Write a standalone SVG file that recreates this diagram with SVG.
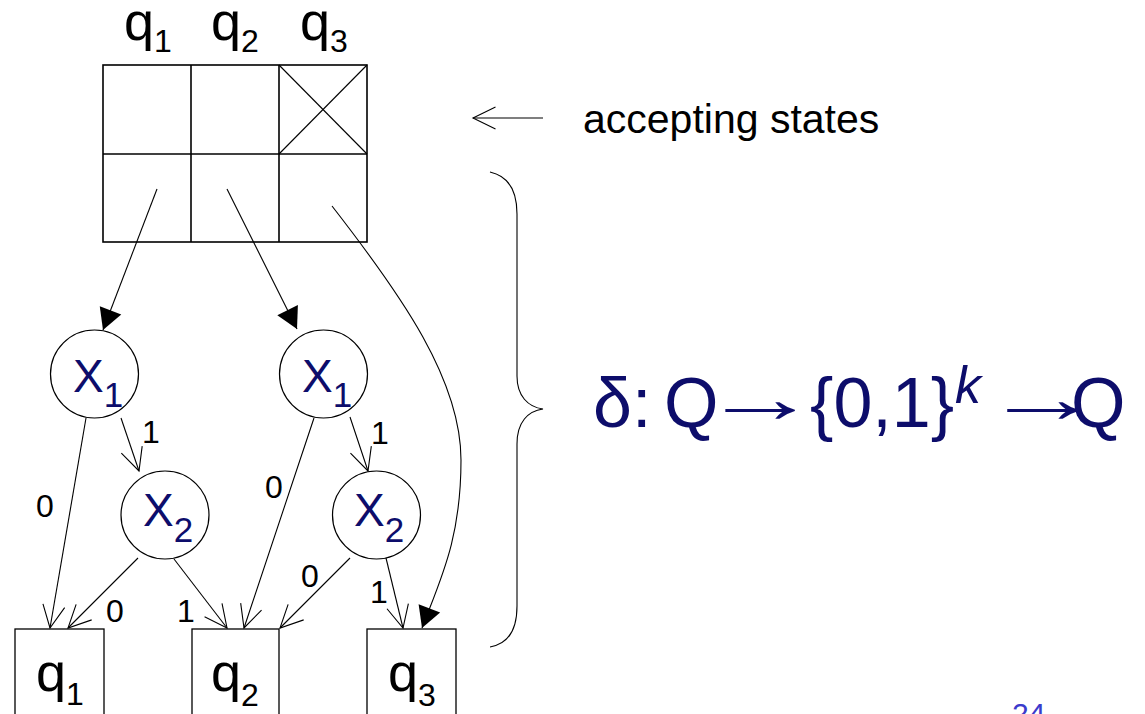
<svg xmlns="http://www.w3.org/2000/svg" width="1145" height="714" viewBox="0 0 1145 714">
<style>
text{font-family:"Liberation Sans",Arial,sans-serif}
.blk{fill:#000}
.nv{fill:#0d0d6b}
.q{font-size:54px}
.qs{font-size:32px}
.x{font-size:46px}
.xs{font-size:35px}
.lbl{font-size:32px;fill:#000}
.box{fill:#fff;stroke:#000;stroke-width:1.3}
.tbl{fill:none;stroke:#000;stroke-width:1.6}
.circ{fill:#fff;stroke:#000;stroke-width:1.2}
.e{fill:none;stroke:#000;stroke-width:1.1}
.fm{font-size:70px;fill:#0d0d6b}
</style>
<defs>
<marker id="fill" viewBox="-22 -12 23 24" refX="0" refY="0" markerWidth="23" markerHeight="24" markerUnits="userSpaceOnUse" orient="auto">
<path d="M-21,-11.5 L0,0 L-21,11.5 Z" fill="#000"/>
</marker>
<marker id="open" viewBox="-24 -13 26 26" refX="0" refY="0" markerWidth="26" markerHeight="26" markerUnits="userSpaceOnUse" orient="auto">
<path d="M-22.5,-11 L0,0 L-22.5,11" fill="none" stroke="#000" stroke-width="1.1"/>
</marker>
</defs>

<g id="table">
<rect class="tbl" x="103" y="65" width="264" height="177"/>
<line class="tbl" x1="103" y1="154" x2="367" y2="154"/>
<line class="tbl" x1="191" y1="65" x2="191" y2="242"/>
<line class="tbl" x1="279" y1="65" x2="279" y2="242"/>
<line class="e" x1="279" y1="65" x2="367" y2="154"/>
<line class="e" x1="367" y1="65" x2="279" y2="154"/>
<text class="q blk" x="124" y="40">q<tspan class="qs" dy="12">1</tspan></text>
<text class="q blk" x="211" y="40">q<tspan class="qs" dy="12">2</tspan></text>
<text class="q blk" x="300" y="40">q<tspan class="qs" dy="12">3</tspan></text>
</g>

<g id="accepting-label">
<text x="583" y="133" style="font-size:41px" class="blk">accepting states</text>
</g>

<g id="x1-left">
<circle class="circ" cx="94.5" cy="374" r="44"/>
<text class="x nv" x="73" y="392">X<tspan class="xs" dy="15">1</tspan></text>
</g>
<g id="x1-right">
<circle class="circ" cx="323.5" cy="374" r="44"/>
<text class="x nv" x="302" y="392">X<tspan class="xs" dy="15">1</tspan></text>
</g>
<g id="x2-left">
<circle class="circ" cx="165" cy="515" r="44"/>
<text class="x nv" x="143" y="526">X<tspan class="xs" dy="16">2</tspan></text>
</g>
<g id="x2-right">
<circle class="circ" cx="376.5" cy="515" r="44"/>
<text class="x nv" x="354" y="526">X<tspan class="xs" dy="16">2</tspan></text>
</g>

<g id="q1-box">
<rect class="box" x="15" y="629" width="89" height="100"/>
<text class="q blk" x="36" y="691">q<tspan class="qs" dy="14">1</tspan></text>
</g>
<g id="q2-box">
<rect class="box" x="192" y="629" width="87" height="100"/>
<text class="q blk" x="211" y="691">q<tspan class="qs" dy="15">2</tspan></text>
</g>
<g id="q3-box">
<rect class="box" x="367" y="629" width="89" height="100"/>
<text class="q blk" x="388" y="691">q<tspan class="qs" dy="15">3</tspan></text>
</g>

<g id="connectors">
<path class="e" d="M157,189 L103,330" marker-end="url(#fill)"/>
<path class="e" d="M227,189 L297,329" marker-end="url(#fill)"/>
<path class="e" d="M332,206 C402,296 461,380 461,460 C461,540 440,580 422,628" marker-end="url(#fill)"/>
<path class="e" d="M121,418 L139,471" marker-end="url(#open)"/>
<path class="e" d="M86,418 L50,628" marker-end="url(#open)"/>
<path class="e" d="M138,558 L68,628" marker-end="url(#open)"/>
<path class="e" d="M174,559 L227,628" marker-end="url(#open)"/>
<path class="e" d="M350,417 L368,471" marker-end="url(#open)"/>
<path class="e" d="M314,418 L244,628" marker-end="url(#open)"/>
<path class="e" d="M350,558 L280,628" marker-end="url(#open)"/>
<path class="e" d="M386,558 L403,628" marker-end="url(#open)"/>
<path class="e" d="M543,118 L473,118" marker-end="url(#open)"/>
<text class="lbl" x="142" y="443">1</text>
<text class="lbl" x="371" y="444">1</text>
<text class="lbl" x="36" y="517">0</text>
<text class="lbl" x="106" y="622">0</text>
<text class="lbl" x="177" y="622">1</text>
<text class="lbl" x="265" y="498">0</text>
<text class="lbl" x="301" y="587">0</text>
<text class="lbl" x="370" y="603">1</text>
</g>

<g id="brace">
<path class="e" d="M490,172 C508,176 517,190 517,214 L517,376 C517,396 528,407 543,409 C528,411 517,422 517,444 L517,606 C517,630 508,644 490,647"/>
</g>

<g id="formula">
<text class="fm" x="593" y="427">δ:</text>
<text class="fm" x="664" y="427">Q</text>
<text class="fm" transform="translate(701,422) scale(1.68,1)" x="0" y="0">→</text>
<text class="fm" x="810" y="427">{0,1}</text>
<text x="955" y="403" style="font-size:52px;font-style:italic;fill:#0d0d6b">k</text>
<text class="fm" transform="translate(983,422) scale(1.72,1)" x="0" y="0">→</text>
<text class="fm" x="1071" y="427">Q</text>
</g>

<g id="page-number">
<text x="1012" y="724" style="font-size:30px;fill:#3b3bcc">24</text>
</g>
</svg>
